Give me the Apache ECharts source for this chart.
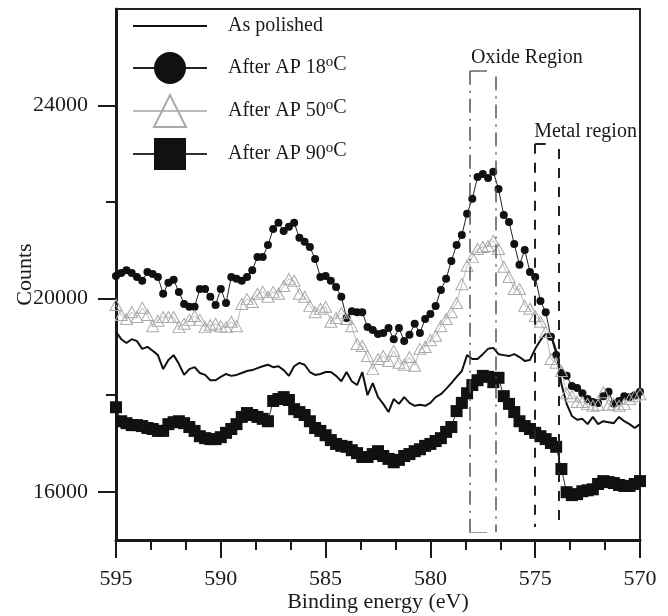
<!DOCTYPE html>
<html>
<head>
<meta charset="utf-8">
<script src="https://cdn.jsdelivr.net/npm/echarts@6/dist/echarts.min.js"></script>
<style>
html, body { margin: 0; padding: 0; background: #fff; }
#chart { width: 668px; height: 616px; }
</style>
</head>
<body>
<div id="chart"></div>
<script>
// binding energy grid, 0.25 eV steps from 595 down to 570
var energy = [];
for (var i = 0; i <= 100; i++) energy.push(+(595 - 0.25 * i).toFixed(2));

var asPolished = [19310,19160,19080,19160,19120,18960,19000,18920,18830,18540,
  18730,18830,18650,18420,18540,18580,18460,18420,18310,18310,
  18380,18440,18400,18420,18460,18500,18520,18560,18600,18630,
  18580,18600,18520,18400,18600,18670,18630,18480,18420,18440,
  18480,18480,18400,18290,18480,18290,18210,18480,18000,18250,
  17960,17820,17650,17920,17820,17960,17840,17780,17800,17780,
  17840,17960,18020,18130,18250,18380,18500,18830,18750,18750,
  18850,18960,18980,18850,18830,18810,18850,18790,18710,18730,
  18960,19140,19270,19250,18920,18230,17820,17570,17490,17510,
  17400,17550,17400,17460,17440,17420,17550,17460,17400,17320,17400];

var ap18 = [20470,20530,20590,20530,20450,20370,20550,20510,20450,20100,
  20330,20390,20140,19890,19830,19830,20200,20200,20040,19870,
  20200,19910,20450,20410,20370,20450,20590,20860,20860,21110,
  21440,21570,21400,21490,21570,21260,21180,21070,20820,20450,
  20470,20370,20240,20040,19600,19740,19720,19720,19410,19350,
  19270,19290,19390,19160,19390,19120,19250,19480,19290,19580,
  19680,19850,20180,20410,20780,21110,21320,21760,22070,22520,
  22580,22500,22630,22270,21730,21590,21130,20700,21010,20550,
  20450,19950,19720,19210,18830,18460,18400,18190,18150,18040,
  17920,17860,17840,17980,18070,17820,17880,17980,17960,18000,18070];

var ap50 = [19870,19660,19580,19720,19620,19810,19660,19430,19540,19620,
  19620,19620,19410,19480,19560,19640,19560,19410,19450,19480,
  19430,19410,19520,19430,19890,19990,19930,20100,20140,20040,
  20140,20100,20260,20410,20370,20100,20040,19850,19720,19790,
  19830,19520,19600,19700,19580,19430,19060,19020,18810,18540,
  18750,18810,18710,18920,18670,18630,18790,18610,18960,19000,
  19140,19230,19430,19580,19720,19910,20300,20680,20860,21030,
  21070,21090,21200,21030,20660,20450,20200,20200,19850,19790,
  19640,19520,19310,18750,18670,18500,18040,17980,17860,17860,
  17820,17780,17800,18060,17800,17820,17780,17820,17920,17980,18020];

var ap90 = [17750,17460,17420,17380,17380,17360,17320,17300,17260,17260,
  17400,17440,17460,17420,17340,17260,17150,17110,17090,17090,
  17130,17220,17300,17400,17550,17630,17590,17550,17510,17460,
  17880,17920,17960,17900,17710,17650,17590,17460,17320,17260,
  17170,17070,16990,16950,16930,16860,16800,16720,16720,16780,
  16840,16740,16680,16610,16660,16740,16780,16840,16880,16950,
  16990,17050,17110,17240,17340,17670,17840,18040,18210,18310,
  18400,18380,18270,18360,17980,17820,17650,17460,17360,17300,
  17220,17150,17090,17010,16930,16470,15990,15930,15950,16010,
  16030,16050,16160,16220,16200,16180,16140,16120,16120,16160,16220];

var yLabels = [16000, 20000, 24000];
var yMinor = [18000, 22000];

// region markers: [energy, top, bottom]
var oxideLines = [[578.1, 24720, 15160], [576.9, 24600, 15160]];
var metalLines = [[575.0, 23210, 15270], [573.9, 23100, 15270]];
var regionTexts = [
  { name: 'Oxide Region', coord: [575.4, 24990] },
  { name: 'Metal region', coord: [572.6, 23455] }
];

function pairs(ys) {
  return ys.map(function (v, i) { return [energy[i], v]; });
}

var serif = 'Liberation Serif';
var ink = '#1a1a1a';

var regionMarks = [];
oxideLines.forEach(function (l) {
  regionMarks.push([
    { coord: [l[0], l[1]], lineStyle: { color: '#555', width: 1.5, type: [14, 6, 2, 6] } },
    { coord: [l[0], l[2]] }
  ]);
});
metalLines.forEach(function (l) {
  regionMarks.push([
    { coord: [l[0], l[1]], lineStyle: { color: '#222', width: 2, type: [10, 9] } },
    { coord: [l[0], l[2]] }
  ]);
});
// little bracket ends
regionMarks.push([
  { coord: [oxideLines[0][0], oxideLines[0][1]], lineStyle: { color: '#666', width: 1.5, type: 'solid' } },
  { coord: [577.3, oxideLines[0][1]] }
]);
regionMarks.push([
  { coord: [oxideLines[0][0] + 0.05, oxideLines[0][2]], lineStyle: { color: '#999', width: 1, type: 'solid' } },
  { coord: [577.3, oxideLines[0][2]] }
]);
regionMarks.push([
  { coord: [metalLines[0][0], metalLines[0][1]], lineStyle: { color: '#222', width: 2, type: 'solid' } },
  { coord: [574.5, metalLines[0][1]] }
]);

var myChart = echarts.init(document.getElementById('chart'));
var option = {
  animation: false,
  backgroundColor: '#fff',
  grid: {
    left: 116, right: 28, top: 9, bottom: 76,
    outerBoundsMode: 'none',
    show: true, borderColor: '#222', borderWidth: 2
  },
  legend: {
    orient: 'vertical',
    left: 127, top: 5,
    itemWidth: 74, itemHeight: 40, itemGap: 10,
    selectedMode: false,
    formatter: function (name) {
      var m = name.match(/^(.*)°C$/);
      if (m) return '{n|' + m[1] + '}{s|o}{c|C}';
      return '{n|' + name + '}';
    },
    textStyle: {
      fontFamily: serif, fontSize: 20, color: ink,
      rich: {
        n: { fontFamily: serif, fontSize: 20, color: ink, padding: [0, 0, 0, 16] },
        s: { fontFamily: serif, fontSize: 15, color: ink, verticalAlign: 'top' },
        c: { fontFamily: serif, fontSize: 20, color: ink, padding: [0, 0, 6, 0] }
      }
    },
    data: [
      { name: 'As polished', itemStyle: { color: 'rgba(0,0,0,0)', borderWidth: 0 } },
      'After AP 18°C', 'After AP 50°C', 'After AP 90°C'
    ]
  },
  xAxis: {
    type: 'value',
    min: 570, max: 595, interval: 5,
    inverse: true,
    name: 'Binding energy (eV)',
    nameLocation: 'middle',
    nameGap: 51,
    nameMoveOverlap: false,
    nameTextStyle: { fontFamily: serif, fontSize: 22, color: ink },
    axisLine: { show: true, lineStyle: { color: ink, width: 3 } },
    axisTick: { show: true, length: 18, lineStyle: { color: ink, width: 2 } },
    minorTick: { show: true, splitNumber: 3, length: 10, lineStyle: { color: ink, width: 2 } },
    axisLabel: { fontFamily: serif, fontSize: 22, color: ink, margin: 28 },
    splitLine: { show: false }
  },
  yAxis: [{
    type: 'value',
    min: 15000, max: 26000,
    name: 'Counts',
    nameLocation: 'middle',
    nameGap: 80,
    nameMoveOverlap: false,
    nameTextStyle: { fontFamily: serif, fontSize: 22, color: ink },
    axisLine: { show: true, lineStyle: { color: ink, width: 3 } },
    axisTick: { show: true, length: 18, customValues: yLabels, lineStyle: { color: ink, width: 2 } },
    axisLabel: {
      fontFamily: serif, fontSize: 22, color: ink, margin: 28, customValues: yLabels,
      formatter: function (v) { return String(v); }
    },
    splitLine: { show: false }
  }, {
    type: 'value',
    min: 15000, max: 26000,
    position: 'left',
    axisLine: { show: false },
    axisTick: { show: true, length: 10, customValues: yMinor, lineStyle: { color: ink, width: 2 } },
    axisLabel: { show: false },
    splitLine: { show: false }
  }],
  series: [
    {
      name: 'As polished',
      type: 'line',
      data: pairs(asPolished),
      symbol: 'none',
      lineStyle: { color: '#111', width: 2 },
      itemStyle: { color: '#111' },
      markLine: {
        silent: true, symbol: 'none', label: { show: false },
        data: regionMarks
      },
      markPoint: {
        silent: true,
        symbol: 'rect', symbolSize: 1,
        itemStyle: { color: 'rgba(0,0,0,0)' },
        label: {
          show: true, position: 'inside',
          fontFamily: serif, fontSize: 20, color: ink,
          formatter: function (p) { return p.name; }
        },
        data: regionTexts
      }
    },
    {
      name: 'After AP 18°C',
      type: 'line',
      data: pairs(ap18),
      symbol: 'circle', symbolSize: 8,
      lineStyle: { color: '#222', width: 1 },
      itemStyle: { color: '#111' }
    },
    {
      name: 'After AP 50°C',
      type: 'line',
      data: pairs(ap50),
      symbol: 'triangle', symbolSize: [12, 11],
      lineStyle: { color: '#bbb', width: 1 },
      itemStyle: { color: 'rgba(255,255,255,0)', borderColor: '#aaa', borderWidth: 1 }
    },
    {
      name: 'After AP 90°C',
      type: 'line',
      data: pairs(ap90),
      symbol: 'rect', symbolSize: 12,
      lineStyle: { color: '#333', width: 1 },
      itemStyle: { color: '#111' }
    }
  ]
};
myChart.setOption(option);
</script>
</body>
</html>
